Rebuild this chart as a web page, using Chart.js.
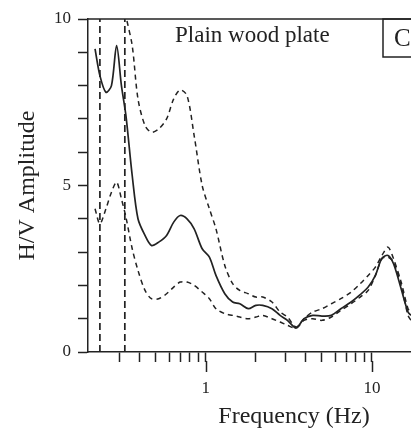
<!DOCTYPE html>
<html>
<head>
<meta charset="utf-8">
<script src="https://cdn.jsdelivr.net/npm/chart.js@4.4.1/dist/chart.umd.min.js"></script>
<style>
  html, body { margin: 0; padding: 0; background: #fff; }
  canvas { display: block; }
</style>
</head>
<body>
<canvas id="hvChart" width="411" height="431"></canvas>
<script>
// frequency grid (Hz) shared by the three H/V curves
const freqs = [0.215, 0.23, 0.25, 0.27, 0.29, 0.31, 0.33, 0.36, 0.39, 0.43, 0.47, 0.52, 0.58, 0.64, 0.70,
    0.77, 0.85, 0.95, 1.05, 1.15, 1.3, 1.45, 1.6, 1.8, 2.0, 2.2, 2.5, 2.8, 3.1, 3.5, 3.9, 4.4, 5.0, 5.7,
    6.5, 7.5, 8.5, 9.5, 10.5, 11.5, 12.5, 13.5, 15, 16.5, 17.2];

// mean H/V ratio
const hvMean = [9.1, 8.3, 7.8, 8.0, 9.2, 8.0, 7.1, 5.3, 4.0, 3.5, 3.2, 3.3, 3.5, 3.9, 4.1,
    4.0, 3.7, 3.1, 2.85, 2.3, 1.75, 1.5, 1.45, 1.3, 1.4, 1.4, 1.3, 1.1, 0.95, 0.72, 1.0, 1.1, 1.08, 1.1,
    1.3, 1.5, 1.72, 1.95, 2.3, 2.82, 2.9, 2.65, 1.9, 1.2, 1.1];

// mean + std
const hvUpper = [null, null, null, null, null, 11.0, 10.1, 9.2, 7.6, 6.8, 6.6, 6.7, 7.0, 7.6, 7.87,
    7.7, 6.5, 5.0, 4.3, 3.7, 2.6, 2.05, 1.85, 1.75, 1.65, 1.65, 1.5, 1.2, 1.05, 0.75, 1.0, 1.2, 1.3, 1.45,
    1.6, 1.8, 2.05, 2.3, 2.55, 2.9, 3.15, 2.8, 2.1, 1.3, 1.2];

// mean - std
const hvLower = [4.3, 3.85, 4.3, 4.8, 5.1, 4.6, 4.05, 3.1, 2.45, 1.85, 1.6, 1.6, 1.75, 1.95, 2.1,
    2.1, 2.0, 1.8, 1.6, 1.3, 1.15, 1.1, 1.05, 1.0, 1.05, 1.1, 1.0, 0.9, 0.8, 0.72, 0.95, 1.0, 0.95, 1.05,
    1.25, 1.45, 1.65, 1.85, 2.3, 2.8, 2.85, 2.7, 2.0, 1.1, 0.95];

// lower frequency limits (vertical dashed lines)
const limitFreqs = [0.23, 0.325];

const yTickLabels = [0, 5, 10];
const xTickLabels = [1, 10];

const INK = '#222';
const SERIF = '"Liberation Serif", "Times New Roman", serif';

function mantissa(v) {
    return v / Math.pow(10, Math.floor(Math.log10(v) + 1e-9));
}
function isNice(v) {
    const m = mantissa(v);
    return Math.abs(m - Math.round(m)) < 1e-6;
}
function isDecade(v) {
    return isNice(v) && Math.round(mantissa(v)) === 1;
}

const toPoints = ys => freqs.map((f, i) => ({ x: f, y: ys[i] }));

const curveStyle = {
    borderColor: INK,
    borderWidth: 1.5,
    pointRadius: 0,
    tension: 0.3,
    fill: false
};

const datasets = [
    Object.assign({ label: 'mean', data: toPoints(hvMean) }, curveStyle, { borderWidth: 1.7 }),
    Object.assign({ label: 'upper', data: toPoints(hvUpper), borderDash: [5, 4] }, curveStyle),
    Object.assign({ label: 'lower', data: toPoints(hvLower), borderDash: [5, 4] }, curveStyle)
];
limitFreqs.forEach((f, i) => {
    datasets.push({
        label: 'limit' + i,
        data: [{ x: f, y: 0 }, { x: f, y: 10 }],
        borderColor: INK,
        borderWidth: 1.7,
        borderDash: [7, 4],
        pointRadius: 0,
        tension: 0
    });
});

// frame top, decade tick extension, x title (the full axis runs past the crop), panel label and box
const decorations = {
    id: 'decorations',
    afterDraw(chart) {
        const ctx = chart.ctx;
        const area = chart.chartArea;
        const xs = chart.scales.x;
        ctx.save();
        ctx.strokeStyle = INK;
        ctx.lineWidth = 1.5;

        ctx.beginPath();
        ctx.moveTo(area.left, area.top);
        ctx.lineTo(area.right, area.top);
        ctx.stroke();

        xs.ticks.forEach(t => {
            if (!isDecade(t.value)) return;
            const px = Math.round(xs.getPixelForValue(t.value)) + 0.5;
            ctx.beginPath();
            ctx.moveTo(px, area.bottom + 9);
            ctx.lineTo(px, area.bottom + 20);
            ctx.stroke();
        });

        ctx.strokeRect(383, area.top, 40, 38);

        ctx.fillStyle = INK;
        ctx.textBaseline = 'alphabetic';
        ctx.textAlign = 'center';
        ctx.font = '24px ' + SERIF;
        ctx.fillText('Frequency (Hz)', 294, 423);

        ctx.textAlign = 'left';
        ctx.font = '23px ' + SERIF;
        ctx.fillText('Plain wood plate', 175, 42);
        ctx.font = '25px ' + SERIF;
        ctx.fillText('C', 394, 46);
        ctx.restore();
    }
};

new Chart(document.getElementById('hvChart'), {
    type: 'line',
    data: { datasets: datasets },
    plugins: [decorations],
    options: {
        responsive: false,
        animation: false,
        layout: { padding: { top: 19, right: 0, left: 0, bottom: 0 } },
        plugins: {
            legend: { display: false },
            tooltip: { enabled: false }
        },
        scales: {
            x: {
                type: 'logarithmic',
                min: 0.195,
                max: 17.2,
                afterFit(s) {
                    s.height = 79;
                    s.paddingLeft = 0;
                    s.paddingRight = 0;
                },
                border: { color: INK, width: 1.5 },
                grid: {
                    drawOnChartArea: false,
                    tickLength: 10,
                    tickWidth: 1.5,
                    tickColor: c => (c.tick && isNice(c.tick.value)) ? INK : 'rgba(0,0,0,0)'
                },
                ticks: {
                    autoSkip: false,
                    maxRotation: 0,
                    padding: 16,
                    color: INK,
                    font: { family: SERIF, size: 17 },
                    callback: v => xTickLabels.some(t => Math.abs(t - v) < 1e-9) ? String(v) : ''
                },
                title: { display: false }
            },
            y: {
                min: 0,
                max: 10,
                afterFit(s) {
                    s.width = 88;
                    s.paddingTop = 0;
                    s.paddingBottom = 0;
                },
                border: { color: INK, width: 1.5 },
                grid: {
                    drawOnChartArea: false,
                    tickLength: 10,
                    tickWidth: 1.5,
                    tickColor: INK
                },
                ticks: {
                    stepSize: 1,
                    autoSkip: false,
                    padding: 7,
                    color: INK,
                    font: { family: SERIF, size: 17 },
                    callback: v => yTickLabels.includes(v) ? String(v) : ''
                },
                title: {
                    display: true,
                    text: 'H/V Amplitude',
                    color: INK,
                    font: { family: SERIF, size: 24 },
                    padding: { top: 13, bottom: 0 }
                }
            }
        }
    }
});
</script>
</body>
</html>
